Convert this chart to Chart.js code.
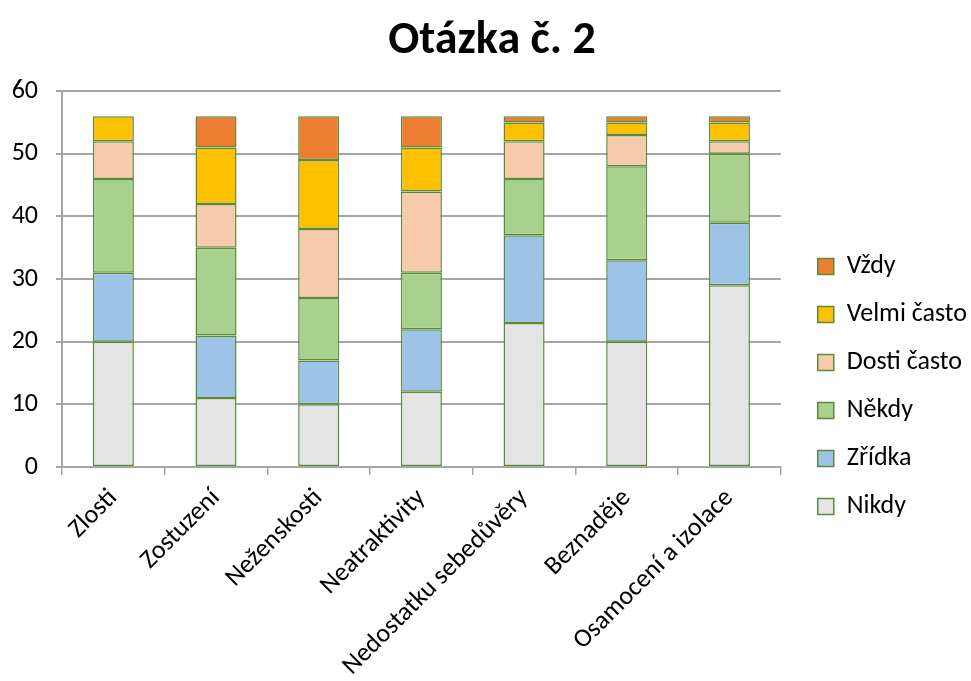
<!DOCTYPE html>
<html>
<head>
<meta charset="utf-8">
<script src="https://cdn.jsdelivr.net/npm/chart.js@4/dist/chart.umd.min.js"></script>
<style>
  html, body { margin: 0; padding: 0; background: #fff; }
  #wrap { width: 971px; height: 681px; }
</style>
</head>
<body>
<div id="wrap"><canvas id="otazka2"></canvas></div>
<script>
// categories and answer counts per option
const categories = ['Zlosti', 'Zostuzení', 'Neženskosti', 'Neatraktivity', 'Nedostatku sebedůvěry', 'Beznaděje', 'Osamocení a izolace'];
const nikdy      = [20, 11, 10, 12, 23, 20, 29];
const zridka     = [11, 10,  7, 10, 14, 13, 10];
const nekdy      = [15, 14, 10,  9,  9, 15, 11];
const dostiCasto = [ 6,  7, 11, 13,  6,  5,  2];
const velmiCasto = [ 4,  9, 11,  7,  3,  2,  3];
const vzdy       = [ 0,  5,  7,  5,  1,  1,  1];
const yTicks = [0, 10, 20, 30, 40, 50, 60];

const edge = '#5b8a3c';
const font = "Calibri, Carlito, 'Open Sans', sans-serif";

function series(label, data, color) {
    return {
        label: label,
        data: data,
        backgroundColor: color,
        borderColor: edge,
        borderWidth: 1.5,
        borderSkipped: false,
        barPercentage: 0.4,
        categoryPercentage: 1.0
    };
}

// nudge the legend block right and down, and re-center the title, after layout
const legendShift = {
    id: 'legendShift',
    afterLayout(chart) {
        const lg = chart.legend;
        if (lg) {
            lg.left += 15;
            lg.right += 15;
            lg.top += 46;
            lg.bottom += 46;
        }
        const tb = chart.titleBlock;
        if (tb) {
            tb.right += 22;
            tb.width += 22;
        }
    }
};

new Chart(document.getElementById('otazka2').getContext('2d'), {
    type: 'bar',
    data: {
        labels: categories,
        datasets: [
            series('Nikdy', nikdy, '#e4e4e4'),
            series('Zřídka', zridka, '#9dc3e6'),
            series('Někdy', nekdy, '#a9d18e'),
            series('Dosti často', dostiCasto, '#f8cbad'),
            series('Velmi často', velmiCasto, '#ffc000'),
            series('Vždy', vzdy, '#ed7d31')
        ]
    },
    plugins: [legendShift],
    options: {
        responsive: true,
        maintainAspectRatio: false,
        animation: false,
        layout: { padding: { left: 0, right: 9, top: 0, bottom: 0 } },
        plugins: {
            title: {
                display: true,
                text: 'Otázka č. 2',
                color: '#000',
                font: { family: font, size: 46, weight: 'bold' },
                padding: { top: 14, bottom: 22 }
            },
            legend: {
                position: 'right',
                reverse: true,
                labels: {
                    color: '#000',
                    font: { family: font, size: 26 },
                    boxWidth: 16,
                    boxHeight: 16,
                    padding: 22
                }
            },
            tooltip: { enabled: false }
        },
        scales: {
            x: {
                stacked: true,
                grid: {
                    offset: true,
                    drawOnChartArea: false,
                    drawTicks: true,
                    tickLength: 8,
                    color: '#a6a6a6',
                    lineWidth: 1.5
                },
                border: { color: '#a6a6a6', width: 2 },
                ticks: {
                    color: '#000',
                    font: { family: font, size: 26 },
                    minRotation: 45,
                    maxRotation: 45,
                    autoSkip: false,
                    padding: 8
                },
                afterFit: function(scale) { scale.height = 214; }
            },
            y: {
                stacked: true,
                min: 0,
                max: 60,
                afterBuildTicks: function(scale) {
                    scale.ticks = yTicks.map(v => ({ value: v }));
                },
                grid: {
                    color: '#a6a6a6',
                    lineWidth: 2,
                    tickLength: 6
                },
                border: { color: '#a6a6a6', width: 2 },
                ticks: {
                    color: '#000',
                    font: { family: font, size: 26 },
                    padding: 18
                },
                afterFit: function(scale) { scale.width = 62; }
            }
        }
    }
});
</script>
</body>
</html>
